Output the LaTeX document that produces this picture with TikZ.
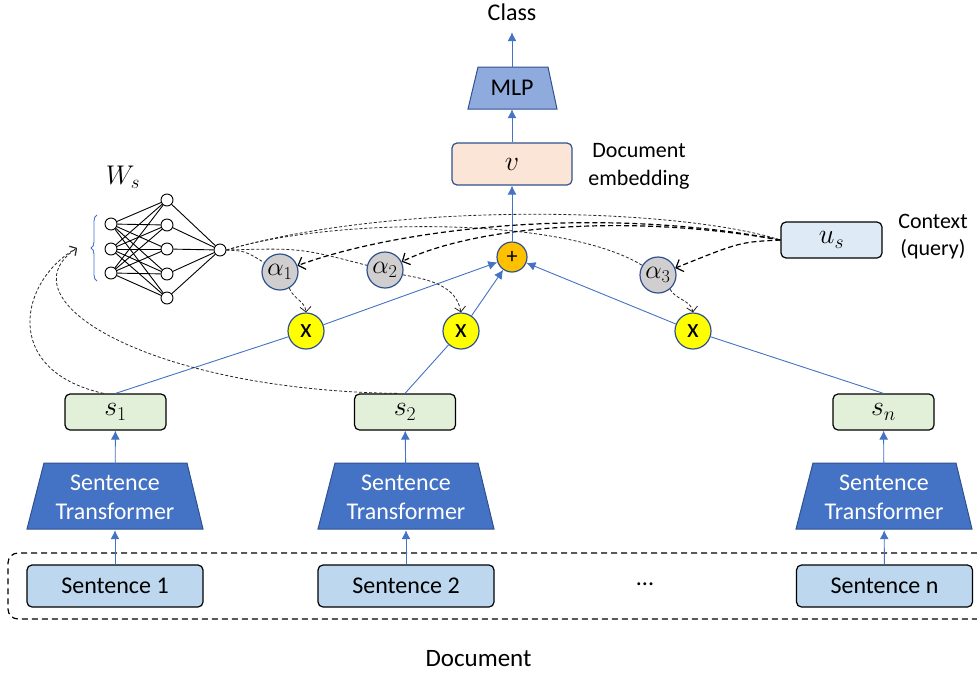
\RequirePackage{fix-cm}
\documentclass[tikz,border=0pt]{standalone}
\usepackage{fontspec}
\setmainfont{Carlito}
\usetikzlibrary{arrows.meta,decorations.pathreplacing,calc}
\definecolor{bl}{HTML}{4472C4}
\definecolor{dbl}{HTML}{2F528F}
\definecolor{mlpc}{HTML}{8FAADC}
\definecolor{orng}{HTML}{FFC000}
\definecolor{yel}{HTML}{FFFF00}
\definecolor{gry}{HTML}{D0CECE}
\definecolor{peach}{HTML}{FBE5D6}
\definecolor{lblue}{HTML}{DEEBF7}
\definecolor{lgreen}{HTML}{E2F0D9}
\definecolor{sentc}{HTML}{BDD7EE}
\begin{document}
\begin{tikzpicture}[x=1pt,y=-1pt,
  font=\fontsize{24}{29}\selectfont,
  lab/.style={font=\fontsize{22}{28}\selectfont, align=center},
  mth/.style={font=\fontsize{28}{28}\selectfont},
  rbox/.style={draw=black, rounded corners=5pt, line width=1.2pt, minimum width=101pt, minimum height=36pt, inner sep=0pt, mth},
  sbox/.style={draw=black, rounded corners=5pt, line width=1.2pt, inner sep=0pt, minimum width=176pt, minimum height=42pt, fill=sentc},
  circ/.style={circle, draw=dbl, line width=1.2pt, minimum size=36pt, inner sep=0pt},
  nn/.style={circle, draw=black, line width=0.9pt, fill=white, minimum size=12pt, inner sep=0pt},
  trap/.style={fill=bl, draw=dbl, line width=1pt},
  blline/.style={draw=bl, line width=0.9pt},
  blarrow/.style={blline, -{Latex[length=9pt,width=9pt]}},
  tdash/.style={draw=black!85, line width=0.8pt, dash pattern=on 3pt off 2pt},
  tda/.style={tdash, -{Straight Barb[length=5pt,width=11pt]}},
  hda/.style={draw=black, line width=1.2pt, dash pattern=on 5pt off 3pt, -{Straight Barb[length=6pt,width=13pt]}},
]
\useasboundingbox (0,0) rectangle (977,678);

% ---- top
\node[font=\fontsize{24}{29}\selectfont, minimum height=40pt, inner sep=0pt] (class) at (512,12) {Class};
\draw[fill=mlpc, draw=dbl, line width=1pt] (468,109) -- (478,67) -- (548,67) -- (557,109) -- cycle;
\node[minimum width=70pt, minimum height=42pt, inner sep=0pt] (mlp) at (512,88) {MLP};
\node[rbox, draw=dbl, fill=peach, minimum width=120pt, minimum height=42pt] (v) at (512,164) {$v$};
\node[lab] (demb) at (639,166) {Document\\embedding};
\node[circ, fill=orng, minimum size=30pt, font=\fontsize{22}{22}\selectfont] (plus) at (512,257) {+};

\draw[blarrow] (mlp) -- (class);
\draw[blarrow] (v) -- (mlp);
\draw[blarrow] (plus) -- (v);

% ---- attention
\node[circ, fill=gry, font=\fontsize{26}{26}\selectfont] (a1) at (280,272) {$\alpha_1$};
\node[circ, fill=gry, font=\fontsize{26}{26}\selectfont] (a2) at (385,270) {$\alpha_2$};
\node[circ, fill=gry, font=\fontsize{26}{26}\selectfont] (a3) at (658,275) {$\alpha_3$};
\node[circ, fill=yel, font=\fontsize{27}{27}\selectfont] (x1) at (306,331) {x};
\node[circ, fill=yel, font=\fontsize{27}{27}\selectfont] (x2) at (461,331) {x};
\node[circ, fill=yel, font=\fontsize{27}{27}\selectfont] (x3) at (693,331) {x};
\node[rbox, fill=lblue] (us) at (831.5,240) {$u_s$};
\node[lab, font=\fontsize{22}{27}\selectfont] (ctx) at (933,236.5) {Context\\(query)};

% ---- sentence embeddings
\node[rbox, fill=lgreen] (s1) at (115.5,412) {$s_1$};
\node[rbox, fill=lgreen] (s2) at (405,412) {$s_2$};
\node[rbox, fill=lgreen] (sn) at (883.5,412) {$s_n$};

% ---- transformers
\draw[trap] (27,529) -- (44,463) -- (187,463) -- (203,529) -- cycle;
\draw[trap] (318,529) -- (335,463) -- (478,463) -- (494,529) -- cycle;
\draw[trap] (796,529) -- (813,463) -- (956,463) -- (972,529) -- cycle;
\node[text=white, align=center, minimum height=66pt, inner sep=0pt] (t1) at (115,497) {Sentence\\Transformer};
\node[text=white, align=center, minimum height=66pt, inner sep=0pt] (t2) at (406,497) {Sentence\\Transformer};
\node[text=white, align=center, minimum height=66pt, inner sep=0pt] (tn) at (884,497) {Sentence\\Transformer};

% ---- sentences
\node[sbox] (st1) at (115,586) {Sentence 1};
\node[sbox] (st2) at (406,586) {Sentence 2};
\node[sbox] (stn) at (884.5,586) {Sentence n};
\node (dots) at (645,584) {...};
\draw[black, line width=1.2pt, dash pattern=on 6pt off 4pt, rounded corners=10pt] (977,553) -- (8,553) -- (8,619) -- (977,619);
\node[font=\fontsize{25}{29}\selectfont] (doc) at (478.5,659) {Document};

\draw[blarrow] (st1) -- (t1);
\draw[blarrow] (st2) -- (t2);
\draw[blarrow] (stn) -- (tn);
\draw[blarrow] (t1) -- (s1);
\draw[blarrow] (t2) -- (s2);
\draw[blarrow] (tn) -- (sn);

\draw[blline] (s1.north) -- (x1);
\draw[blline] (s2.north) -- (x2);
\draw[blline] (sn.north) -- (x3);
\draw[blarrow] (x1) -- (plus);
\draw[blarrow] (x2) -- (plus);
\draw[blarrow] (x3) -- (plus);

% ---- neural net
\node[font=\fontsize{27}{27}\selectfont] (ws) at (123,177) {$W_s$};
\foreach \i/\y in {1/224,2/249,3/273} \node[nn] (i\i) at (111,\y) {};
\foreach \i/\y in {1/200,2/225,3/249,4/274,5/298} \node[nn] (h\i) at (167,\y) {};
\node[nn] (o) at (220,250) {};
\foreach \i in {1,2,3} \foreach \j in {1,...,5} \draw[line width=0.9pt] (i\i) -- (h\j);
\foreach \j in {1,...,5} \draw[line width=0.9pt] (h\j) -- (o);
\draw[bl, line width=0.9pt, decorate, decoration={brace, amplitude=6pt}] (97,281) -- (97,215);
\coordinate (bt) at (77,248);

% ---- dashed feedback to W_s
\draw[tda] ([xshift=-12pt]s1.north) .. controls (0,370) and (20,280) .. (bt);
\draw[tda] ([xshift=-8pt]s2.north) .. controls (150,390) and (0,300) .. (bt);

% ---- thin dashed from NN output
\draw[tdash] (o.east) .. controls (245,251) .. (a1);
\draw[tdash] (o.east) .. controls (300,248) .. (a2);
\draw[tdash] (o.east) .. controls (330,218) and (560,215) .. (a3);
\draw[tdash] (o.east) .. controls (400,200) and (680,208) .. (us.west);

% ---- heavy dashed from u_s
\draw[hda] (us.west) .. controls (600,205) and (400,228) .. (a1);
\draw[hda] (us.west) .. controls (620,212) and (470,228) .. (a2);
\draw[hda] (us.west) .. controls (740,242) .. (a3);

% ---- alpha to x
\draw[tda] (a1.-60) to[out=-70,in=95] (x1.north);
\draw[tda] (a2.-15) to[out=-10,in=100] (x2.north);
\draw[tda] (a3.-50) to[out=-60,in=100] (x3.north);
\end{tikzpicture}
\end{document}
